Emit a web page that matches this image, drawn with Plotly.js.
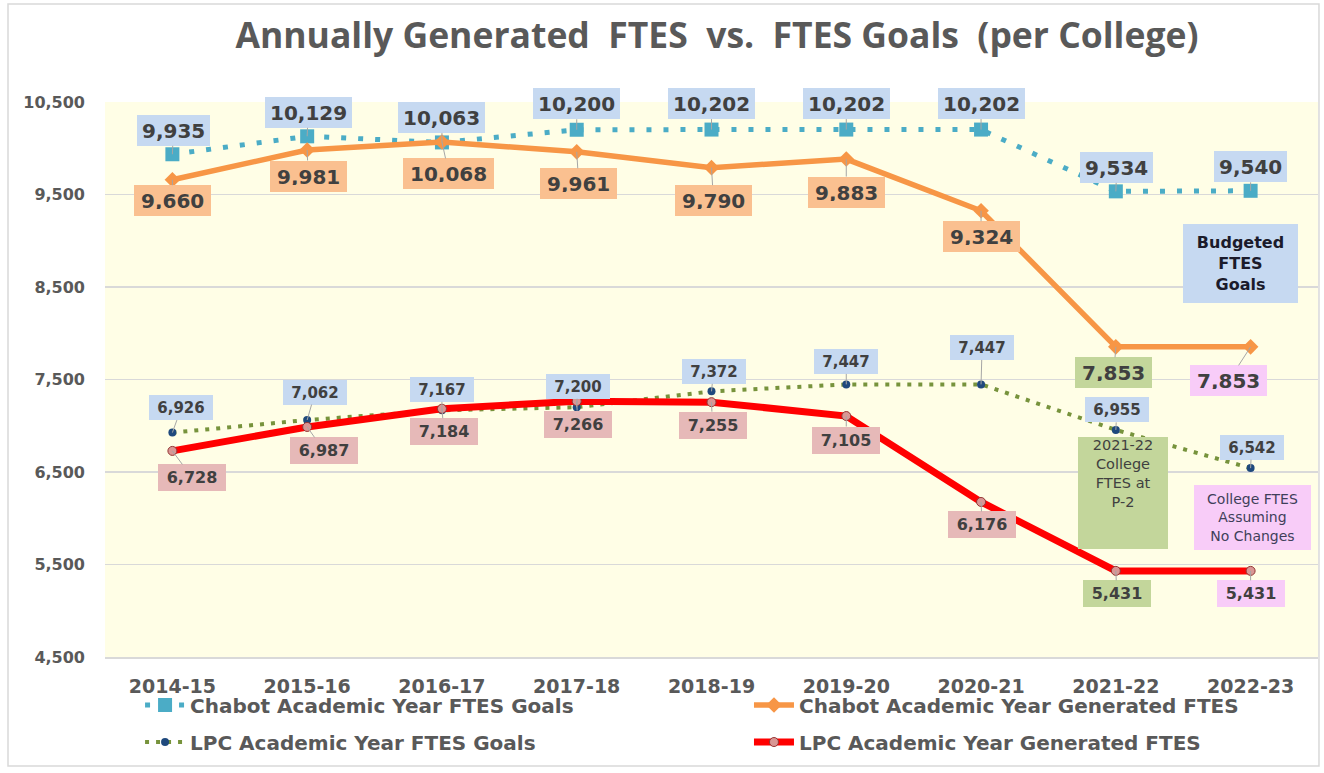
<!DOCTYPE html>
<html>
<head>
<meta charset="utf-8">
<script src="https://cdn.plot.ly/plotly-3.0.1.min.js"></script>
<style>html,body{margin:0;padding:0;background:#fff;}#chart{width:1324px;height:773px;}</style>
</head>
<body>
<div id="chart"></div>
<script>
// ---- data ----
var categories = ['2014-15','2015-16','2016-17','2017-18','2018-19','2019-20','2020-21','2021-22','2022-23'];
var chabotGoals = [9935, 10129, 10063, 10200, 10202, 10202, 10202, 9534, 9540];
var chabotGenerated = [9660, 9981, 10068, 9961, 9790, 9883, 9324, 7853, 7853];
var lpcGoals = [6926, 7062, 7167, 7200, 7372, 7447, 7447, 6955, 6542];
var lpcGenerated = [6728, 6987, 7184, 7266, 7255, 7105, 6176, 5431, 5431];
var seriesNames = ['Chabot Academic Year FTES Goals', 'Chabot Academic Year Generated FTES',
                   'LPC Academic Year FTES Goals', 'LPC Academic Year Generated FTES'];
var yTicks = [4500, 5500, 6500, 7500, 8500, 9500, 10500];
var titleText = 'Annually Generated\u00a0 FTES\u00a0 vs.\u00a0 FTES Goals\u00a0 (per College)';
var noteBudgeted = 'Budgeted<br>FTES<br>Goals';
var noteP2 = '2021-22<br>College<br>FTES at<br>P-2';
var noteNoChange = 'College FTES<br>Assuming<br>No Changes';

// ---- label placement (pixel offsets from the point) ----
var offChabotGoals = [[1,-24],[1,-24],[0,-25],[0,-26],[0,-26],[0,-26],[0,-26],[1,-24],[0,-24]];
var offChabotGen = [[0,21],[1,26],[7,32],[2,32],[2,33],[0,33],[0,26],[-2,26],[-22,34]];
var offLpcGoals = [[9,-25],[8,-28],[0,-21],[1,-21],[2,-20],[0,-23],[1,-37],[1,-20],[1,-21]];
var offLpcGen = [[20,27],[17,24],[2,23],[1,23],[1,23],[0,24],[1,23],[1,23],[0,23]];

var BLUE_BG = '#C6D9F1', ORANGE_BG = '#FAC090', RED_BG = '#E6B9B8', GREEN_BG = '#C3D69B', PINK_BG = '#F8CCF8';
var genOrangeBg = [ORANGE_BG,ORANGE_BG,ORANGE_BG,ORANGE_BG,ORANGE_BG,ORANGE_BG,ORANGE_BG,GREEN_BG,PINK_BG];
var genRedBg = [RED_BG,RED_BG,RED_BG,RED_BG,RED_BG,RED_BG,RED_BG,GREEN_BG,PINK_BG];

var BOLD = 'DejaVu Sans';
var GRAY = '#595959';
var LBL = '#404040';

function fmt(v){ return v.toLocaleString('en-US'); }

var annotations = [];
function addLabels(vals, offs, bgs, style){
  for (var i = 0; i < vals.length; i++){
    var a = {
      x: categories[i], y: vals[i], xref: 'x', yref: 'y',
      text: '<b>' + fmt(vals[i]) + '</b>',
      showarrow: true, arrowhead: 0, arrowwidth: 1, arrowcolor: '#A6A6A6', standoff: 0,
      ax: offs[i][0], ay: offs[i][1], axref: 'pixel', ayref: 'pixel',
      bgcolor: Array.isArray(bgs) ? bgs[i] : bgs,
      borderwidth: 0, borderpad: style.pad,
      font: {family: BOLD, size: style.size, color: LBL}
    };
    if (style.width) a.width = style.width;
    if (style.height) a.height = style.height;
    annotations.push(a);
  }
}
addLabels(chabotGoals, offChabotGoals, BLUE_BG, {size: 20, pad: 5, height: 21});
addLabels(chabotGenerated, offChabotGen, genOrangeBg, {size: 20, pad: 7, height: 17});
addLabels(lpcGoals, offLpcGoals, BLUE_BG, {size: 15, pad: 4, width: 56, height: 17});
addLabels(lpcGenerated, offLpcGen, genRedBg, {size: 16, pad: 4, width: 60, height: 19});

annotations.push({
  xref: 'paper', yref: 'paper', x: 0.9365, y: 0.7099, xanchor: 'center', yanchor: 'middle',
  text: '<b>' + noteBudgeted + '</b>', showarrow: false, bgcolor: BLUE_BG, borderwidth: 0, borderpad: 0,
  width: 115, height: 79, font: {family: BOLD, size: 16, color: '#1B1B2B'}
});
annotations.push({
  xref: 'paper', yref: 'paper', x: 0.8392, y: 0.2955, xanchor: 'center', yanchor: 'middle',
  text: noteP2, showarrow: false, bgcolor: GREEN_BG, borderwidth: 0, borderpad: 0,
  width: 90, height: 112, valign: 'top', font: {family: 'DejaVu Sans', size: 14.5, color: '#404040'}
});
annotations.push({
  xref: 'paper', yref: 'paper', x: 0.9456, y: 0.2505, xanchor: 'center', yanchor: 'middle',
  text: noteNoChange, showarrow: false, bgcolor: PINK_BG, borderwidth: 0, borderpad: 0,
  width: 117, height: 65, font: {family: 'DejaVu Sans', size: 14, color: '#3F3F5A'}
});

var traces = [
  {x: categories, y: chabotGoals, name: seriesNames[0], type: 'scatter', mode: 'lines+markers',
   line: {color: '#4BACC6', width: 5, dash: '5px,12px'},
   marker: {symbol: 'square', size: 14, color: '#4BACC6'}, legend: 'legend'},
  {x: categories, y: chabotGenerated, name: seriesNames[1], type: 'scatter', mode: 'lines+markers',
   line: {color: '#F79646', width: 5.5},
   marker: {symbol: 'diamond', size: 12, color: '#F79646'}, legend: 'legend2'},
  {x: categories, y: lpcGoals, name: seriesNames[2], type: 'scatter', mode: 'lines+markers',
   line: {color: '#77933C', width: 4, dash: '4px,7px'},
   marker: {symbol: 'circle', size: 8, color: '#1F497D'}, legend: 'legend3'},
  {x: categories, y: lpcGenerated, name: seriesNames[3], type: 'scatter', mode: 'lines+markers',
   line: {color: '#FF0000', width: 7},
   marker: {symbol: 'circle', size: 9, color: '#D99694', line: {color: '#943634', width: 1}}, legend: 'legend4'}
];

function makeLegend(x, y){
  return {
    orientation: 'h', xanchor: 'left', yanchor: 'middle', x: x, y: y, itemwidth: 40,
    font: {family: BOLD, size: 20, color: GRAY, weight: 'bold'},
    bgcolor: 'rgba(0,0,0,0)', borderwidth: 0, itemclick: false
  };
}

var layout = {
  width: 1324, height: 773,
  margin: {l: 105, r: 6, t: 102, b: 116, pad: 0},
  paper_bgcolor: '#FFFFFF', plot_bgcolor: '#FFFEE6',
  title: {text: '<b>' + titleText + '</b>', x: 0.5415, xanchor: 'center', y: 0.9534, yanchor: 'middle',
          font: {family: 'Open Sans', size: 35.5, color: GRAY}},
  xaxis: {type: 'category', categoryorder: 'array', categoryarray: categories, range: [-0.5, 8.5],
          showgrid: false, zeroline: false, showline: true, linecolor: '#D9D9D9', linewidth: 1.5,
          ticks: '', ticklabelstandoff: 12,
          tickfont: {family: BOLD, size: 19, color: GRAY, weight: 'bold'}, fixedrange: true},
  yaxis: {range: [4500, 10500], tickvals: yTicks, ticktext: yTicks.map(fmt),
          showgrid: true, gridcolor: '#D9D9D9', gridwidth: 1.5, zeroline: false, showline: false,
          ticks: '', ticklabelstandoff: 19,
          tickfont: {family: BOLD, size: 16, color: GRAY, weight: 'bold'}, fixedrange: true},
  legend: makeLegend(0.0289, -0.0865),
  legend2: makeLegend(0.5309, -0.0865),
  legend3: makeLegend(0.0289, -0.1532),
  legend4: makeLegend(0.5309, -0.1532),
  showlegend: true,
  annotations: annotations,
  shapes: [{type: 'rect', xref: 'paper', yref: 'paper', x0: -0.07997, x1: 1.0008, y0: -0.1964, y1: 1.1766,
            line: {color: '#D9D9D9', width: 1.5}, fillcolor: 'rgba(0,0,0,0)', layer: 'above'}]
};

Plotly.newPlot('chart', traces, layout, {displayModeBar: false, staticPlot: true});
</script>
</body>
</html>
